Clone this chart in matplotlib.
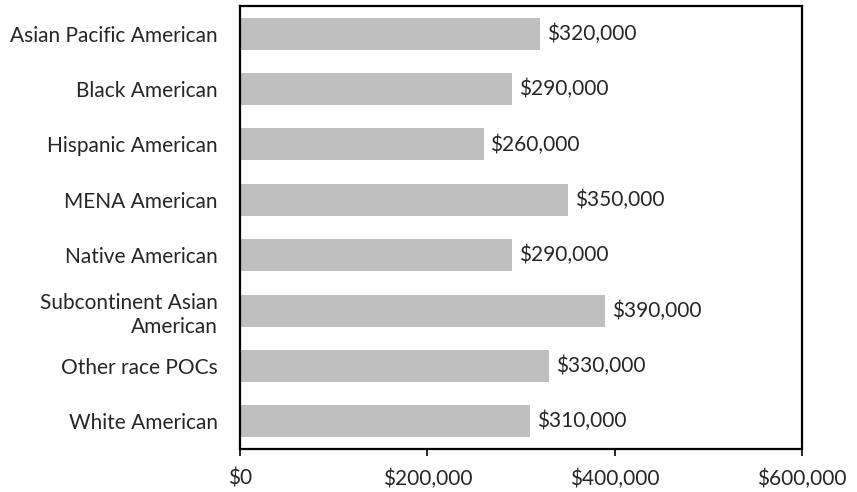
import matplotlib
matplotlib.use("Agg")
import matplotlib.pyplot as plt
from matplotlib.ticker import FuncFormatter

plt.rcParams['font.family'] = ['Lato', 'DejaVu Sans']

categories = [
    "Asian Pacific American",
    "Black American",
    "Hispanic American",
    "MENA American",
    "Native American",
    "Subcontinent Asian\nAmerican",
    "Other race POCs",
    "White American",
]
values = [320000, 290000, 260000, 350000, 290000, 390000, 330000, 310000]
x_ticks = [0, 200000, 400000, 600000]

fig = plt.figure(figsize=(8.57, 4.92), dpi=100)
ax = fig.add_axes([240 / 857, 1 - 449 / 492, 562 / 857, 443 / 492])

positions = list(range(len(categories)))
ax.barh(positions, values, height=0.58, color="#BFBFBF", zorder=2)
ax.set_ylim(len(categories) - 0.5, -0.5)
ax.set_xlim(0, 600000)

money = lambda v: f"${v:,.0f}"
for y, v in zip(positions, values):
    ax.annotate(money(v), xy=(v, y), xytext=(5, 0), textcoords="offset points",
                va="center", ha="left", fontsize=15, color="#262626")

ax.set_yticks(positions)
ax.set_yticklabels(categories, fontsize=15, color="#262626", linespacing=1.25)
ax.tick_params(axis="y", length=0, pad=16)
ax.set_xticks(x_ticks)
ax.xaxis.set_major_formatter(FuncFormatter(lambda v, p: money(v)))
ax.tick_params(axis="x", length=5, width=1.2, labelsize=15, labelcolor="#262626", pad=9)

for s in ax.spines.values():
    s.set_linewidth(1.6)
    s.set_color("black")

fig.savefig("out.png", dpi=100)
